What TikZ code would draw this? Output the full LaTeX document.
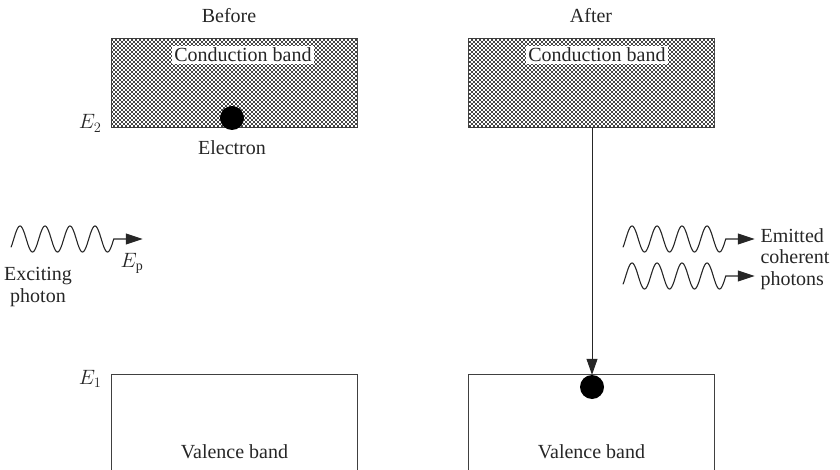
\documentclass[tikz,border=0pt]{standalone}
\usepackage{fontspec}
\setmainfont{Liberation Serif}
\usetikzlibrary{patterns.meta,arrows.meta}
\tikzdeclarepattern{
  name=bandDots,
  type=uncolored,
  bounding box={(-1pt,-1pt) and (3pt,3pt)},
  tile size={(4pt,4pt)},
  code={
    \pgfpathrectangle{\pgfpoint{-0.8pt}{-0.8pt}}{\pgfpoint{1.6pt}{1.6pt}}
    \pgfpathrectangle{\pgfpoint{1.2pt}{1.2pt}}{\pgfpoint{1.6pt}{1.6pt}}
    \pgfusepath{fill}
  }
}
\begin{document}
\begin{tikzpicture}[x=1pt,y=-1pt,
  every node/.style={font=\fontsize{20}{21.5}\selectfont, text=black!85},
  cbox/.style={draw=black!75, line width=1.1pt, fill=black!72,
     postaction={pattern=bandDots, pattern color=white},
     minimum width=245pt, minimum height=88pt, inner sep=0pt},
  vbox/.style={minimum width=245pt, minimum height=95pt, inner sep=0pt},
  vline/.style={draw=black!75, line width=1.1pt},
  cblabel/.style={fill=white, inner sep=2pt},
  electron/.style={circle, fill=black, minimum size=24pt, inner sep=0pt},
  photon/.style={line width=1.1pt, draw=black!85, -{Triangle[length=17pt,width=11pt]}},
  drop/.style={line width=1pt, draw=black!85, -{Triangle[length=16pt,width=11pt]}}
]
\useasboundingbox (0,0) rectangle (840,470);

% titles
\node (before) at (229,16) {Before};
\node (after) at (591,16) {After};

% conduction bands
\node[cbox] (cb1) at (234.5,83) {};
\node[cbox] (cb2) at (591.5,83) {};
\node[cblabel] (cbl1) at (243,55) {Conduction band};
\node[cblabel] (cbl2) at (597,55) {Conduction band};

% valence bands (open at the bottom)
\node[vbox] (vb1) at (234.5,422.5) {};
\node[vbox] (vb2) at (591.5,422.5) {};
\draw[vline] (vb1.south west) -- (vb1.north west) -- (vb1.north east) -- (vb1.south east);
\draw[vline] (vb2.south west) -- (vb2.north west) -- (vb2.north east) -- (vb2.south east);
\node (vbl1) at (234.5,452) {Valence band};
\node (vbl2) at (591.5,452) {Valence band};

% energy levels
\node[anchor=base east] (E2) at (105,129) {$E_2$};
\node[anchor=base east] (E1) at (105,384) {$E_1$};

% electrons
\node[electron] (el1) at (232,118) {};
\node (ellab) at (232,148) {Electron};
\node[electron] (el2) at (592,387) {};

% transition
\draw[drop] (cb2.south -| el2) -- (vb2.north -| el2);

% exciting photon
\draw[photon] plot[domain=11:113.75, samples=160, smooth] (\x,{239-13*cos(14.4*(\x-20))}) -- ++(29,0);
\node[align=center] (exc) at (38,287) {Exciting\\photon};
\node (Ep) at (132,263) {$E_{\mathrm{p}}$};

% emitted photons
\draw[photon] plot[domain=623:725.75, samples=160, smooth] (\x,{239-13*cos(14.4*(\x-632))}) -- ++(29,0);
\draw[photon] plot[domain=623:725.75, samples=160, smooth] (\x,{276-13*cos(14.4*(\x-632))}) -- ++(29,0);
\node[align=left, anchor=west] (emit) at (757,259) {Emitted\\coherent\\photons};
\end{tikzpicture}
\end{document}
